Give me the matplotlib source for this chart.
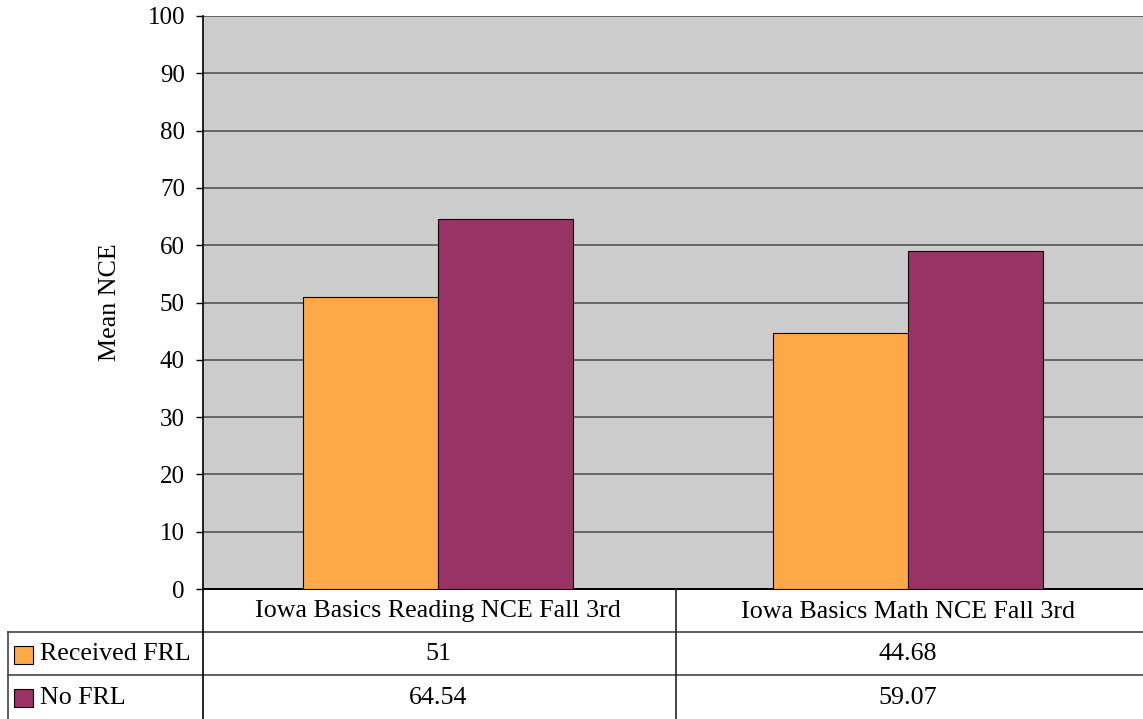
import matplotlib
matplotlib.use("Agg")
import matplotlib.pyplot as plt
from matplotlib.lines import Line2D
from matplotlib.patches import Rectangle

categories = ["Iowa Basics Reading NCE Fall 3rd", "Iowa Basics Math NCE Fall 3rd"]
series_names = ["Received FRL", "No FRL"]
received_frl = [51, 44.68]
no_frl = [64.54, 59.07]
value_labels = [["51", "44.68"], ["64.54", "59.07"]]
y_ticks = [0, 10, 20, 30, 40, 50, 60, 70, 80, 90, 100]

colors = ["#FFA848", "#993366"]

plt.rcParams["font.family"] = ["Liberation Serif", "DejaVu Serif"]

W, H = 1143, 719
fig = plt.figure(figsize=(W / 100, H / 100), dpi=100)

def fx(px):
    return px / W

def fy(py):
    return 1 - py / H

ax_left, ax_right, ax_top, ax_bottom = 203, 1143, 16, 589
ax = fig.add_axes([fx(ax_left), fy(ax_bottom), fx(ax_right - ax_left), fy(ax_top) - fy(ax_bottom)])
ax.set_facecolor("#CCCCCC")

n = len(categories)
width = 0.287
xs = list(range(n))
for i, vals in enumerate([received_frl, no_frl]):
    offs = (i - 0.5) * width
    ax.bar([x + offs for x in xs], vals, width=width, color=colors[i],
           edgecolor="black", linewidth=0.8, zorder=3)

ax.set_xlim(-0.5, n - 0.5)
ax.set_ylim(0, 100)
ax.set_yticks(y_ticks)
ax.set_yticklabels([str(t) for t in y_ticks], fontsize=18)
ax.set_xticks([])
ax.yaxis.grid(True, color="#555555", linewidth=1.2, zorder=1)
ax.set_axisbelow(True)
ax.tick_params(axis="y", direction="out", length=5, width=1, pad=8, colors="black")
for side in ["right", "top"]:
    ax.spines[side].set_visible(False)
ax.spines["left"].set_linewidth(1.2)
ax.spines["bottom"].set_linewidth(1.4)
ax.set_ylabel("Mean NCE", fontsize=18.7, labelpad=19)

# Data table beneath the axes
row_y = [589, 632, 675, 719]
line_kw = dict(transform=fig.transFigure, color="#444444", linewidth=1.2)
fig.add_artist(Line2D([fx(8), fx(W)], [fy(632), fy(632)], **line_kw))
fig.add_artist(Line2D([fx(8), fx(W)], [fy(675), fy(675)], **line_kw))
fig.add_artist(Line2D([fx(8), fx(8)], [fy(632), fy(719)], **line_kw))
fig.add_artist(Line2D([fx(203), fx(203)], [fy(589), fy(719)], transform=fig.transFigure,
                      color="black", linewidth=1.2))
fig.add_artist(Line2D([fx(676), fx(676)], [fy(589), fy(719)], transform=fig.transFigure,
                      color="#222222", linewidth=1.2))

col_centers = [ax_left + (ax_right - ax_left) * (i + 0.5) / n for i in range(n)]
for i, cat in enumerate(categories):
    fig.text(fx(col_centers[i]), fy((row_y[0] + row_y[1]) / 2 + 1), cat,
             ha="center", va="center", fontsize=18.7)

for r, name in enumerate(series_names):
    yc = (row_y[r + 1] + row_y[r + 2]) / 2 + 1
    fig.add_artist(Rectangle((fx(14), fy(yc + 9)), fx(19), fy(yc - 9) - fy(yc + 9),
                             transform=fig.transFigure, facecolor=colors[r],
                             edgecolor="black", linewidth=0.8))
    fig.text(fx(40), fy(yc), name, ha="left", va="center", fontsize=18.7)
    for i in range(n):
        fig.text(fx(col_centers[i]), fy(yc), value_labels[r][i],
                 ha="center", va="center", fontsize=18.7)

fig.savefig("out.png", dpi=100)
